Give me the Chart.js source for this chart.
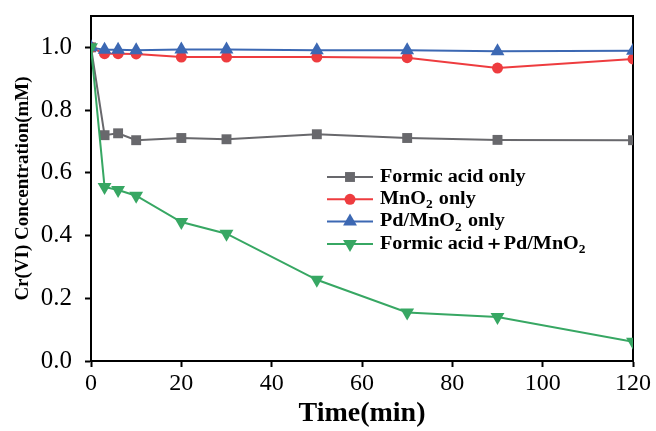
<!DOCTYPE html>
<html>
<head>
<meta charset="utf-8">
<script src="https://cdn.jsdelivr.net/npm/chart.js@4.4.1/dist/chart.umd.min.js"></script>
<style>
  html, body { margin: 0; padding: 0; background: #fff; }
  #wrap { width: 656px; height: 431px; }
</style>
</head>
<body>
<div id="wrap"><canvas id="c" width="656" height="431"></canvas></div>
<script>
// reaction time, min
var times = [0, 3, 6, 10, 20, 30, 50, 70, 90, 120];

// Cr(VI) concentration, mM
var formicOnly = [1.0, 0.72, 0.726, 0.704, 0.711, 0.707, 0.723, 0.711, 0.705, 0.704];
var mnO2Only   = [1.0, 0.98, 0.98, 0.979, 0.969, 0.969, 0.969, 0.967, 0.934, 0.963];
var pdMnO2Only = [1.0, 0.992, 0.992, 0.991, 0.993, 0.993, 0.991, 0.991, 0.988, 0.989];
var formicPd   = [1.0, 0.555, 0.545, 0.527, 0.443, 0.406, 0.259, 0.155, 0.140, 0.061];

// "_2" marks a subscript 2 in the legend text
var seriesNames = ['Formic acid only', 'MnO_2 only', 'Pd/MnO_2 only', 'Formic acid\uFF0BPd/MnO_2'];

var xTicks = [0, 20, 40, 60, 80, 100, 120];
var yTicks = [0, 0.2, 0.4, 0.6, 0.8, 1.0];

var SERIF = '"Liberation Serif", "Times New Roman", serif';

function pts(ys) {
  return times.map(function (t, i) { return { x: t, y: ys[i] }; });
}

function series(label, ys, color, style, radius, rotation, order) {
  return {
    label: label,
    data: pts(ys),
    borderColor: color,
    backgroundColor: color,
    borderWidth: 2,
    pointStyle: style,
    pointRadius: radius,
    pointRotation: rotation,
    pointBorderWidth: 0,
    pointBackgroundColor: color,
    tension: 0,
    clip: 0,
    order: order
  };
}

// no extra room above/below the tick labels, the layout padding handles it
function noScalePadding(axis) {
  axis.paddingTop = 0;
  axis.paddingBottom = 0;
  axis.paddingLeft = 0;
  axis.paddingRight = 0;
}

// bare axis used only to close the box on the top and right
function frameAxis(pos, min, max) {
  return {
    type: 'linear',
    position: pos,
    min: min,
    max: max,
    afterFit: function (axis) {
      noScalePadding(axis);
      if (pos === 'top') axis.height = 0; else axis.width = 0;
    },
    border: { display: true, color: '#000', width: 2 },
    grid: { display: false, drawTicks: false },
    ticks: { display: false }
  };
}

// legend inside the plot, with subscripts
var legendPlugin = {
  id: 'innerLegend',
  afterDraw: function (chart) {
    var ctx = chart.ctx;
    var x0 = 327, lineLen = 46, textX = 380, y0 = 177, gap = 22.3;
    ctx.save();
    chart.data.datasets.forEach(function (ds, i) {
      var y = y0 + i * gap;
      ctx.strokeStyle = ds.borderColor;
      ctx.lineWidth = 2;
      ctx.beginPath();
      ctx.moveTo(x0, y);
      ctx.lineTo(x0 + lineLen, y);
      ctx.stroke();
      ctx.fillStyle = ds.borderColor;
      Chart.helpers.drawPoint(ctx, {
        pointStyle: ds.pointStyle,
        radius: ds.pointRadius,
        rotation: ds.pointRotation,
        borderWidth: 0
      }, x0 + lineLen / 2, y);

      // legend text is set a little wide
      ctx.save();
      ctx.translate(textX, y);
      ctx.scale(1.12, 1);
      var parts = seriesNames[i].split('_');
      var x = 0;
      ctx.fillStyle = '#000';
      ctx.textBaseline = 'middle';
      parts.forEach(function (p, k) {
        if (k > 0) {
          ctx.font = 'bold 12px ' + SERIF;
          ctx.fillText(p.charAt(0), x, 6);
          x += ctx.measureText(p.charAt(0)).width + 1;
          p = p.slice(1);
        }
        ctx.font = 'bold 18px ' + SERIF;
        ctx.fillText(p, x, 0);
        x += ctx.measureText(p).width;
      });
      ctx.restore();
    });
    ctx.restore();
  }
};

new Chart(document.getElementById('c'), {
  type: 'line',
  data: {
    datasets: [
      series(seriesNames[0], formicOnly, '#68686c', 'rect', 7, 0, 3),
      series(seriesNames[1], mnO2Only, '#ee3c3f', 'circle', 5.5, 0, 2),
      series(seriesNames[2], pdMnO2Only, '#3c68b3', 'triangle', 8, 0, 1),
      series(seriesNames[3], formicPd, '#37a763', 'triangle', 8, 180, 0)
    ]
  },
  options: {
    responsive: false,
    animation: false,
    devicePixelRatio: 1,
    layout: { padding: { top: 16, right: 23, left: 0, bottom: 0 } },
    plugins: {
      legend: { display: false },
      tooltip: { enabled: false }
    },
    scales: {
      x: {
        type: 'linear',
        min: 0,
        max: 120,
        afterBuildTicks: function (axis) {
          axis.ticks = xTicks.map(function (v) { return { value: v }; });
        },
        afterFit: function (axis) { noScalePadding(axis); axis.height = 70; },
        border: { color: '#000', width: 2 },
        grid: { drawOnChartArea: false, drawTicks: true, tickLength: 6, tickWidth: 2, tickColor: '#000' },
        ticks: {
          color: '#000',
          padding: 2,
          maxRotation: 0,
          font: { family: SERIF, size: 24 }
        },
        title: {
          display: true,
          text: 'Time(min)',
          color: '#000',
          padding: { top: 0, bottom: 0 },
          font: { family: SERIF, size: 28, weight: 'bold' }
        }
      },
      y: {
        min: 0,
        max: 1.1,
        afterBuildTicks: function (axis) {
          axis.ticks = yTicks.map(function (v) { return { value: v }; });
        },
        afterFit: function (axis) { noScalePadding(axis); axis.width = 91; },
        border: { color: '#000', width: 2 },
        grid: { drawOnChartArea: false, drawTicks: true, tickLength: 6, tickWidth: 2, tickColor: '#000' },
        ticks: {
          color: '#000',
          padding: 13,
          callback: function (v) { return v.toFixed(1); },
          font: { family: SERIF, size: 25 }
        },
        title: {
          display: true,
          text: 'Cr(VI) Concentration(mM)',
          color: '#000',
          padding: { top: 12, bottom: 0 },
          font: { family: SERIF, size: 19, weight: 'bold' }
        }
      },
      xTop: frameAxis('top', 0, 120),
      yRight: frameAxis('right', 0, 1.1)
    }
  },
  plugins: [legendPlugin]
});
</script>
</body>
</html>
